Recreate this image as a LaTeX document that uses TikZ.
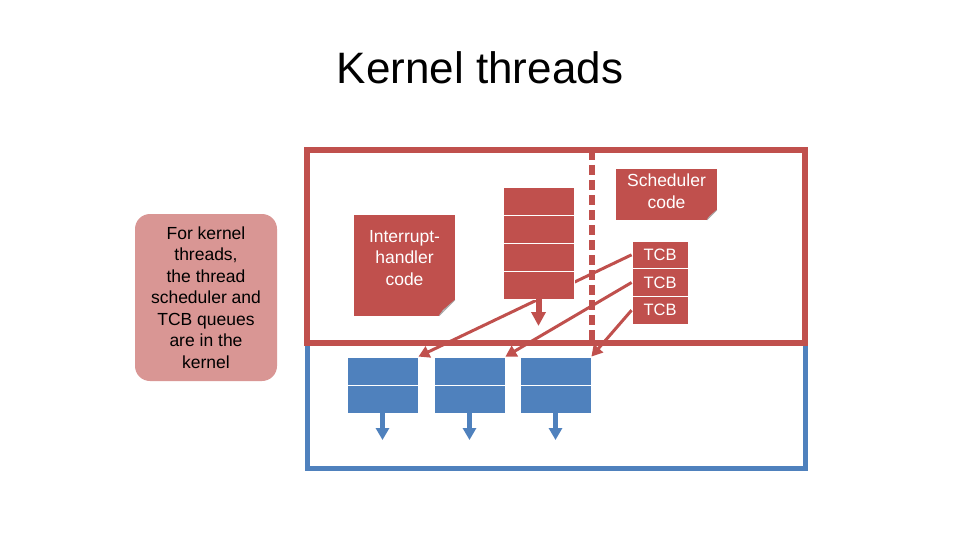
\documentclass[tikz,border=0pt]{standalone}
\usepackage{fontspec}
\setmainfont{Liberation Sans}
\usetikzlibrary{arrows.meta}
\definecolor{kred}{RGB}{192,80,77}
\definecolor{kblue}{RGB}{79,129,189}
\definecolor{kpink}{RGB}{217,150,148}
\tikzset{
  redcell/.style={fill=kred, draw=white, line width=0.8pt, inner sep=0pt, minimum width=71pt, minimum height=28pt},
  tcbcell/.style={fill=kred, draw=white, line width=0.8pt, inner sep=0pt, minimum width=56pt, minimum height=27.7pt, text=white, font=\fontsize{16.5}{18}\selectfont},
  bluecell/.style={fill=kblue, draw=white, line width=0.8pt, inner sep=0pt, minimum width=71pt, minimum height=28pt},
  codebox/.style={fill=kred, inner sep=0pt, text=white, align=center, font=\fontsize{17.5}{21.5}\selectfont},
  diagarrow/.style={draw=kred, line width=3pt, -{Triangle[width=12pt,length=11pt]}},
  downblue/.style={draw=kblue, line width=5pt, -{Triangle[width=13pt,length=12pt]}},
}
\newcommand{\foldcorner}[3]{%
  \fill[white] (#1-#3,#2) -- (#1,#2-#3) -- (#1,#2) -- cycle;
  \filldraw[fill=white, draw=gray!70, line width=0.6pt] (#1-#3,#2) -- (#1,#2-#3) -- (#1-0.75*#3,#2-0.35*#3) -- cycle;
}
\begin{document}
\begin{tikzpicture}[x=1pt,y=-1pt]
\useasboundingbox (0,0) rectangle (960,540);
\fill[white] (0,0) rectangle (960,540);

% title
\node[font=\fontsize{44}{50}\selectfont] (title) at (480,68) {Kernel threads};

% left note
\node[fill=kpink, rounded corners=15pt, minimum width=142pt, minimum height=167pt, inner sep=0pt, align=center, font=\fontsize{17.5}{21.5}\selectfont] (note) at (206,297.5) {For kernel\\threads,\\the thread\\scheduler and\\TCB queues\\are in the\\kernel};

% user (blue) and kernel (red) frames
\draw[kblue, line width=5pt] (307,343) rectangle (805,468);
\draw[kred, line width=5.5pt] (307,150) rectangle (805,343);
\draw[kred, line width=6pt, dash pattern=on 10pt off 5pt] (592,150) -- (592,343);

% code boxes
\node[codebox, minimum width=101pt, minimum height=51pt, anchor=north west] (sched) at (616,169) {};
\node[codebox, anchor=north] at (666.5,174) {Scheduler\\code};
\foldcorner{717}{220}{10}
\node[codebox, minimum width=101pt, minimum height=101pt, anchor=north west] (intr) at (354,215) {};
\node[codebox, anchor=north] at (404.5,230) {Interrupt-\\handler\\code};
\foldcorner{455}{316}{16}

% TCB queue
\node[tcbcell] (t1) at (660,254.8) {TCB};
\node[tcbcell] (t2) at (660,282.5) {TCB};
\node[tcbcell] (t3) at (660,310.2) {TCB};

% blue thread stacks
\node[bluecell] (b1a) at (382.5,371) {};
\node[bluecell] (b1b) at (382.5,399) {};
\node[bluecell] (b2a) at (469.5,371) {};
\node[bluecell] (b2b) at (469.5,399) {};
\node[bluecell] (b3a) at (555.5,371) {};
\node[bluecell] (b3b) at (555.5,399) {};

% arrows from TCBs to thread stacks
\draw[diagarrow] (t1.west) -- (b1a.north east);
\draw[diagarrow] (t2.west) -- (b2a.north east);
\draw[diagarrow] (t3.west) -- (b3a.north east);

% kernel stack (drawn over arrows)
\node[redcell] (s1) at (538.5,201) {};
\node[redcell] (s2) at (538.5,229) {};
\node[redcell] (s3) at (538.5,257) {};
\node[redcell] (s4) at (538.5,285) {};
\coordinate (s4tip) at (538.5,326);
\draw[kred, line width=6pt, -{Triangle[width=14pt,length=14pt]}] (s4.south) -- (s4tip);

% down arrows from blue stacks
\coordinate (b1tip) at (382.5,440);
\coordinate (b2tip) at (469.5,440);
\coordinate (b3tip) at (555.5,440);
\draw[downblue] (b1b.south) -- (b1tip);
\draw[downblue] (b2b.south) -- (b2tip);
\draw[downblue] (b3b.south) -- (b3tip);
\end{tikzpicture}
\end{document}
